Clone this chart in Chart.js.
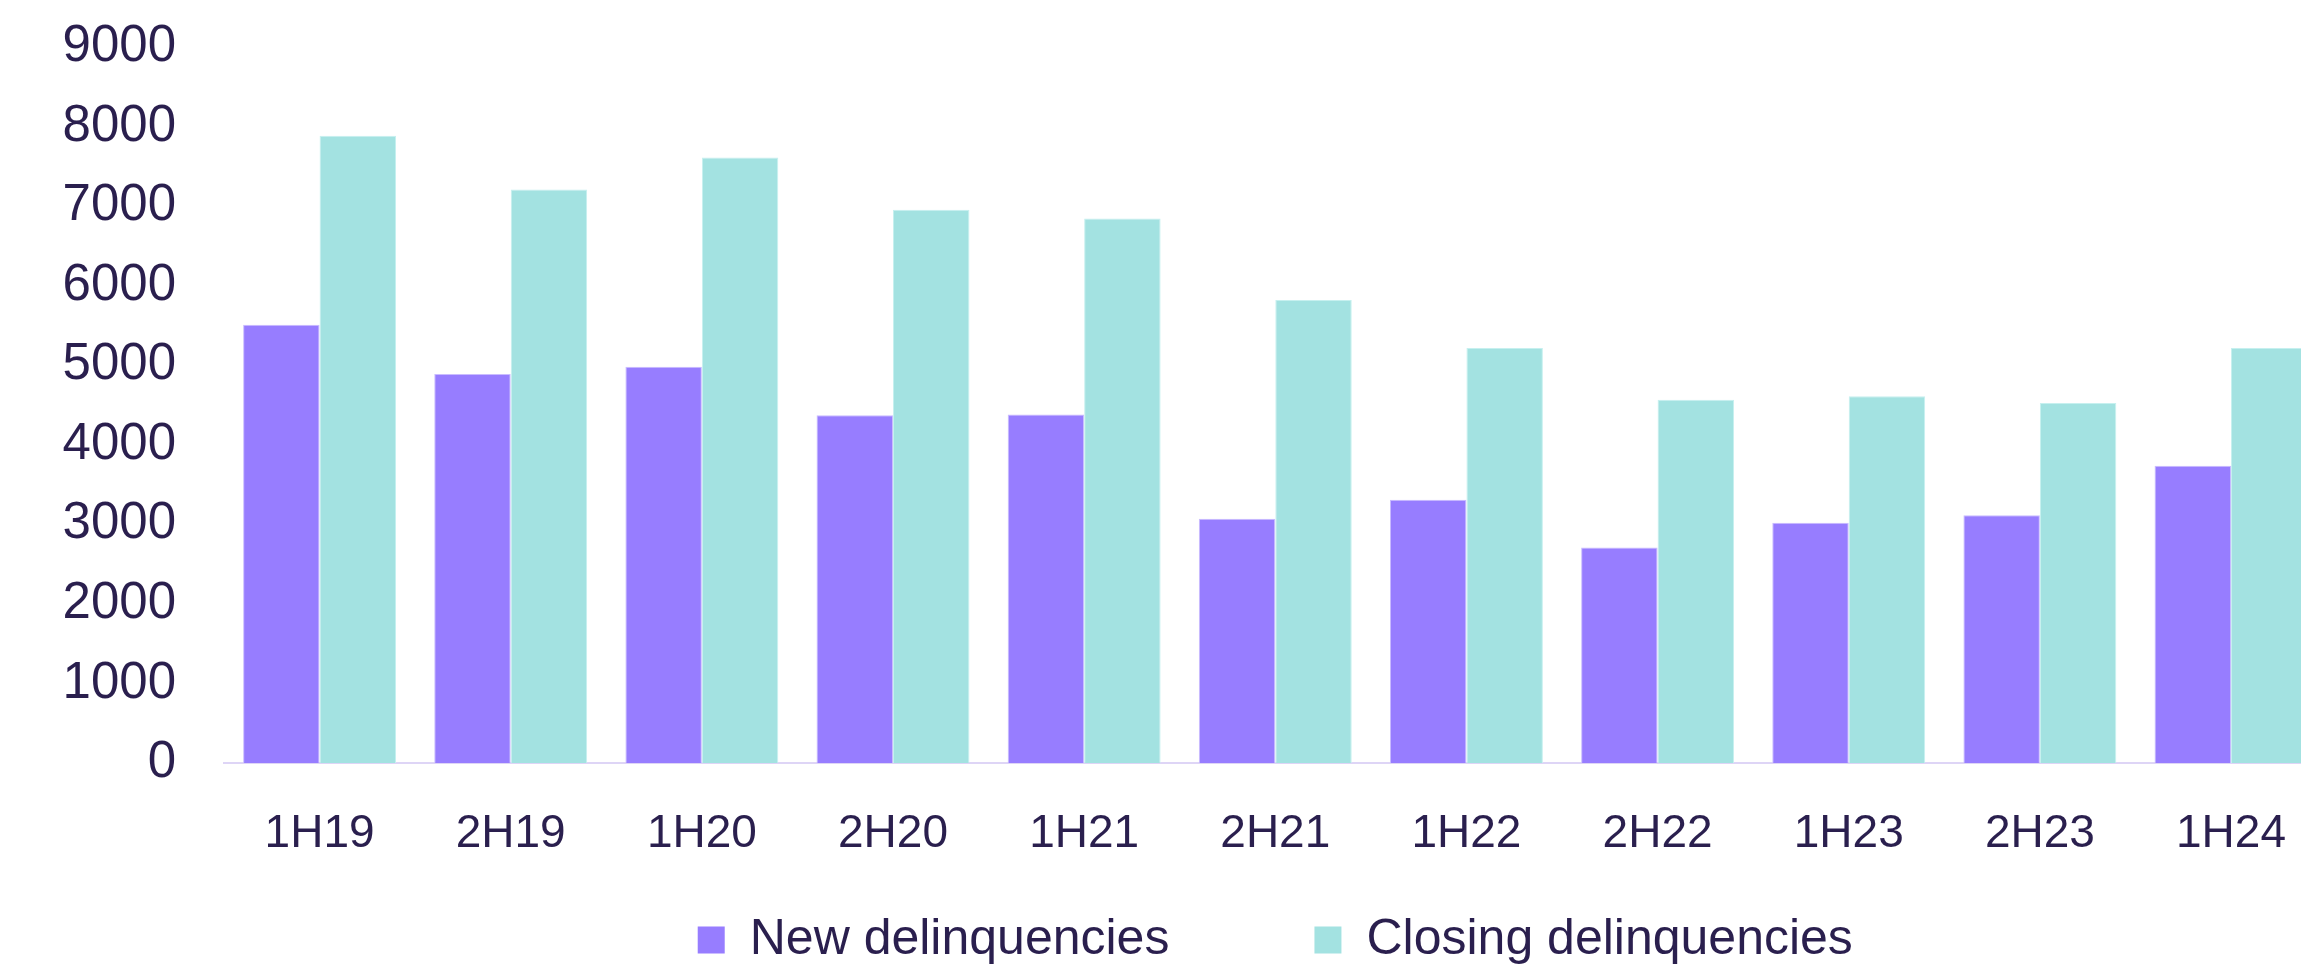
<!DOCTYPE html>
<html>
<head>
<meta charset="utf-8">
<title>Delinquencies</title>
<script src="https://cdn.jsdelivr.net/npm/chart.js@4"></script>
<style>
    html, body { margin: 0; padding: 0; background: #ffffff; overflow: hidden; }
    #wrap { position: relative; width: 2330px; height: 975px; }
</style>
</head>
<body>
<div id="wrap"><canvas id="myChart"></canvas></div>
<script>
// data
const periods = ['1H19', '2H19', '1H20', '2H20', '1H21', '2H21', '1H22', '2H22', '1H23', '2H23', '1H24'];
const newDelinquencies = [5510, 4890, 4980, 4370, 4380, 3070, 3310, 2710, 3020, 3115, 3735];
const closingDelinquencies = [7885, 7210, 7610, 6955, 6845, 5820, 5215, 4565, 4610, 4525, 5215];
const yTicks = [0, 1000, 2000, 3000, 4000, 5000, 6000, 7000, 8000, 9000];

const textColor = '#2a1f4e';
const fontFamily = "'Liberation Sans', Arial, sans-serif";

// setup
const data = {
    labels: periods,
    datasets: [{
        label: 'New delinquencies',
        data: newDelinquencies,
        backgroundColor: '#977dff',
        borderColor: '#c9bcff',
        borderWidth: 1,
        borderSkipped: 'bottom'
    }, {
        label: 'Closing delinquencies',
        data: closingDelinquencies,
        backgroundColor: '#a3e2e1',
        borderColor: '#c6f0ef',
        borderWidth: 1,
        borderSkipped: 'bottom'
    }]
};

const config = {
    type: 'bar',
    data,
    options: {
        responsive: true,
        maintainAspectRatio: false,
        animation: false,
        layout: {
            padding: { top: 47, left: 0, right: 0, bottom: 0 }
        },
        datasets: {
            bar: {
                categoryPercentage: 0.8,
                barPercentage: 1.0
            }
        },
        scales: {
            x: {
                afterFit: function (scale) {
                    scale.height = 132;
                },
                grid: { display: false, drawTicks: false },
                border: { display: true, color: '#ded5f6', width: 2 },
                ticks: {
                    color: textColor,
                    padding: 44,
                    maxRotation: 0,
                    font: { family: fontFamily, size: 46 }
                }
            },
            y: {
                min: 0,
                max: 9000,
                afterBuildTicks: function (scale) {
                    scale.ticks = yTicks.map(v => ({ value: v }));
                },
                afterFit: function (scale) {
                    scale.width = 224;
                    // tick padding should not push the plot down
                    scale.paddingTop = 0;
                    scale.paddingBottom = 0;
                },
                grid: { display: false, drawTicks: false },
                border: { display: false },
                ticks: {
                    color: textColor,
                    padding: 48,
                    font: { family: fontFamily, size: 51 },
                    callback: function (value) {
                        return String(value);
                    }
                }
            }
        },
        plugins: {
            tooltip: { enabled: false },
            legend: {
                position: 'bottom',
                fullSize: false,
                maxHeight: 80,
                labels: {
                    color: textColor,
                    boxWidth: 27,
                    boxHeight: 27,
                    padding: 20,
                    font: { family: fontFamily, size: 50 },
                    // wider gap after the first entry, like the original
                    generateLabels: function (chart) {
                        const items = Chart.defaults.plugins.legend.labels.generateLabels(chart);
                        items.forEach(item => { item.lineWidth = 0; });
                        items[0].text = items[0].text + '         ';
                        return items;
                    }
                }
            }
        }
    }
};

const myChart = new Chart(
    document.getElementById('myChart').getContext('2d'),
    config
);
</script>
</body>
</html>
